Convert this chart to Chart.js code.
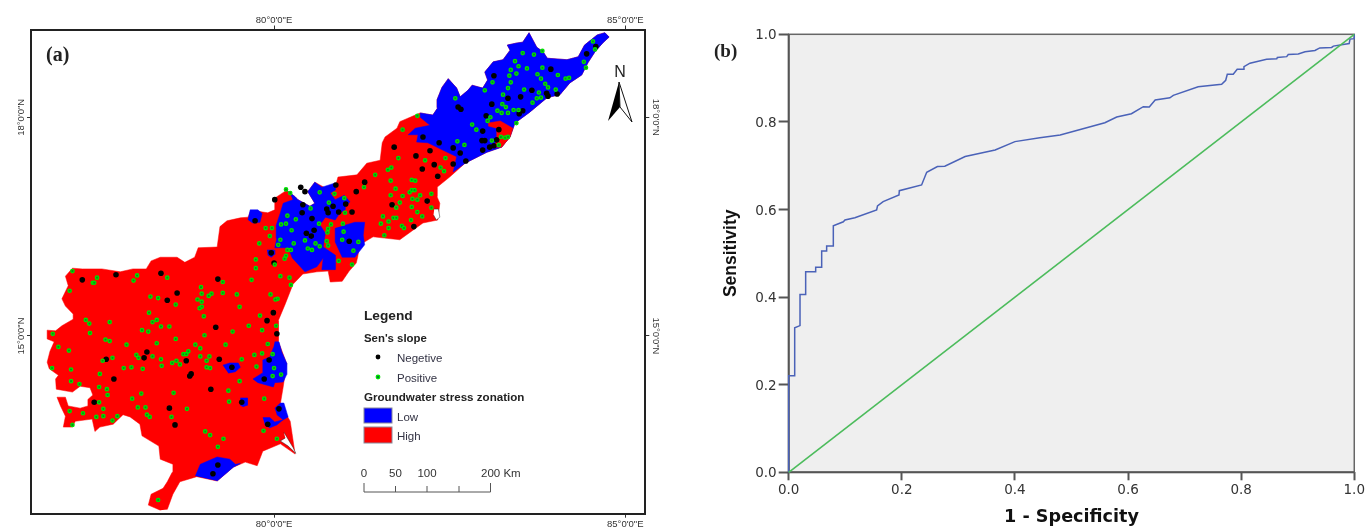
<!DOCTYPE html>
<html><head><meta charset="utf-8">
<style>html,body{margin:0;padding:0;background:#fff;overflow:hidden}canvas{position:absolute;top:0}</style>
<script src="https://cdn.jsdelivr.net/npm/chart.js@4"></script></head><body>
<canvas id="map" width="680" height="527" style="left:0"></canvas>
<canvas id="roc" width="687" height="527" style="left:680px"></canvas>
<script>
// ===== Panel (a): map data, [longitude, latitude] in degrees =====
const lonTicks=[80,85], latTicks=[15,18];
const stateOutline=[[78.38,12.61],[78.21,12.68],[78.25,12.83],[78.42,12.91],[78.48,13.00],[78.55,13.13],[78.56,13.24],[78.38,13.31],[78.36,13.49],[78.12,13.63],[78.09,13.79],[77.95,13.89],[77.85,13.92],[77.71,13.79],[77.52,13.75],[77.45,13.69],[77.41,13.86],[77.17,13.83],[77.13,13.75],[77.00,13.75],[77.03,13.90],[76.96,14.04],[76.91,14.16],[77.03,14.16],[77.07,14.04],[77.24,14.01],[77.35,14.04],[77.35,14.13],[77.42,14.19],[77.38,14.29],[77.24,14.31],[77.13,14.23],[76.90,14.27],[76.89,14.41],[76.93,14.46],[76.80,14.55],[76.77,14.64],[76.81,14.79],[76.87,14.92],[76.77,14.96],[76.77,15.08],[76.89,15.07],[76.98,15.14],[77.14,15.23],[77.14,15.30],[77.03,15.41],[76.98,15.51],[77.07,15.69],[77.03,15.82],[77.13,15.93],[77.27,15.92],[77.55,15.92],[77.81,15.88],[77.99,15.92],[78.18,15.92],[78.25,16.03],[78.38,16.08],[78.62,16.08],[78.73,16.01],[78.87,16.08],[78.92,16.21],[79.19,16.22],[79.23,16.50],[79.33,16.58],[79.52,16.62],[79.63,16.63],[79.66,16.70],[79.77,16.71],[79.91,16.69],[80.01,16.73],[80.01,16.89],[80.18,17.00],[80.30,16.91],[80.34,16.87],[80.51,16.78],[80.58,16.82],[80.48,16.98],[80.58,17.11],[80.73,17.03],[80.87,17.04],[80.91,17.18],[81.18,17.21],[81.32,17.37],[81.51,17.41],[81.54,17.65],[81.58,17.73],[81.75,17.85],[81.79,17.94],[82.01,18.03],[82.08,18.06],[82.26,18.03],[82.33,18.13],[82.32,18.24],[82.39,18.41],[82.48,18.53],[82.60,18.40],[82.65,18.28],[82.76,18.37],[82.82,18.44],[82.97,18.40],[83.04,18.51],[83.00,18.62],[83.12,18.76],[83.26,18.79],[83.36,18.92],[83.32,18.99],[83.46,19.02],[83.54,19.03],[83.63,19.16],[83.74,18.96],[83.83,18.90],[83.89,18.81],[84.17,18.79],[84.33,18.83],[84.42,18.99],[84.60,19.13],[84.71,19.16],[84.77,19.10],[84.68,19.02],[84.57,18.90],[84.47,18.75],[84.38,18.58],[84.21,18.47],[84.07,18.31],[83.89,18.27],[83.64,18.07],[83.43,17.92],[83.36,17.73],[83.24,17.59],[83.03,17.52],[82.72,17.37],[82.50,17.18],[82.32,17.04],[82.32,16.91],[82.36,16.82],[82.33,16.59],[82.12,16.55],[81.79,16.32],[81.41,16.36],[81.22,16.25],[81.19,16.08],[81.17,16.00],[81.07,15.89],[80.97,15.75],[80.80,15.74],[80.77,15.89],[80.61,15.88],[80.41,15.85],[80.27,15.71],[80.16,15.44],[80.06,15.21],[80.06,14.93],[80.18,14.62],[80.13,14.30],[80.09,14.07],[80.23,13.83],[80.30,13.38],[80.09,13.52],[79.84,13.42],[79.76,13.22],[79.59,13.27],[79.42,13.20],[79.19,13.01],[78.90,13.07],[78.66,13.00],[78.56,12.83],[78.48,12.62]];
const lowNorthEast=[[82.08,18.06],[82.26,18.03],[82.33,18.13],[82.32,18.24],[82.39,18.41],[82.48,18.53],[82.60,18.40],[82.65,18.28],[82.76,18.37],[82.82,18.44],[82.97,18.40],[83.04,18.51],[83.00,18.62],[83.12,18.76],[83.26,18.79],[83.36,18.92],[83.32,18.99],[83.46,19.02],[83.54,19.03],[83.63,19.16],[83.74,18.96],[83.83,18.90],[83.89,18.81],[84.17,18.79],[84.33,18.83],[84.42,18.99],[84.60,19.13],[84.71,19.16],[84.77,19.10],[84.68,19.02],[84.57,18.90],[84.47,18.75],[84.38,18.58],[84.21,18.47],[84.07,18.31],[83.89,18.27],[83.64,18.07],[83.43,17.92],[83.36,17.73],[83.24,17.59],[83.03,17.52],[82.72,17.37],[82.55,17.25],[82.60,17.46],[82.40,17.55],[82.19,17.65],[82.03,17.66],[82.05,17.76],[81.91,17.76],[82.01,17.85],[82.22,17.89],[82.08,18.00]];
const highCoastPatch=[[83.05,17.92],[83.22,17.95],[83.40,17.85],[83.36,17.73],[83.24,17.59],[83.14,17.59],[83.17,17.73],[83.17,17.85],[83.05,17.88]];
const lowCentral=[[80.18,17.00],[80.30,16.91],[80.34,16.87],[80.51,16.78],[80.58,16.82],[80.48,16.98],[80.58,17.11],[80.68,17.04],[80.87,17.10],[80.87,17.00],[80.80,16.96],[80.87,16.87],[81.00,16.93],[81.08,16.84],[81.01,16.77],[81.01,16.73],[80.94,16.69],[80.87,16.59],[80.73,16.63],[80.68,16.56],[80.63,16.56],[80.73,16.41],[80.70,16.22],[80.87,16.11],[80.87,15.91],[80.68,15.91],[80.70,16.07],[80.61,15.95],[80.44,15.88],[80.26,16.07],[80.20,16.21],[80.01,16.21],[80.04,16.34],[80.03,16.52],[80.09,16.69],[80.13,16.82],[80.27,16.87],[80.23,16.96]];
const lowKrishnaEast=[[81.01,16.52],[81.15,16.56],[81.29,16.56],[81.27,16.38],[81.29,16.25],[81.15,16.08],[80.97,16.08],[80.87,16.29],[80.87,16.48]];
const lowWestSmall=[[79.63,16.59],[79.66,16.73],[79.77,16.73],[79.83,16.68],[79.80,16.56],[79.69,16.55]];
const lowTiny=[[79.90,16.18],[80.00,16.18],[80.01,16.12],[79.96,16.08],[79.91,16.11]];
const lowCoast1=[[80.01,14.92],[80.07,14.92],[80.11,14.78],[80.18,14.63],[80.18,14.47],[80.13,14.37],[80.01,14.36],[79.99,14.30],[79.77,14.36],[79.70,14.41],[79.83,14.49],[79.84,14.67],[79.94,14.71],[79.99,14.84]];
const lowCoast2=[[79.27,14.60],[79.37,14.63],[79.49,14.63],[79.52,14.57],[79.45,14.51],[79.35,14.49]];
const lowCoast3=[[79.52,14.15],[79.62,14.15],[79.62,14.05],[79.56,14.03],[79.52,14.05]];
const lowCoast4=[[80.01,14.01],[80.09,14.08],[80.14,14.08],[80.20,13.89],[80.13,13.85],[80.04,13.92]];
const lowCoast5=[[79.84,13.88],[79.94,13.88],[80.01,13.82],[80.13,13.85],[80.04,13.78],[79.94,13.74],[79.87,13.78]];
const lowSouth=[[78.88,13.08],[78.95,13.24],[79.19,13.34],[79.37,13.31],[79.45,13.24],[79.52,13.25],[79.42,13.20],[79.19,13.01]];
const deltaSouth=[[80.14,13.68],[80.27,13.47],[80.31,13.39],[80.20,13.49],[80.09,13.56],[80.16,13.60]];
const deltaNorth=[[82.28,16.74],[82.34,16.74],[82.36,16.63],[82.31,16.59],[82.27,16.66]];
const negativeSites=[[77.27,15.77],[77.75,15.84],[78.39,15.86],[79.20,15.78],[78.62,15.59],[78.48,15.49],[79.17,15.12],[79.99,15.32],[79.90,15.21],[80.04,15.03],[77.61,14.68],[78.19,14.78],[78.15,14.70],[78.75,14.66],[79.22,14.68],[79.40,14.57],[79.93,14.67],[79.86,14.41],[77.72,14.41],[78.82,14.48],[78.80,14.45],[79.10,14.27],[77.44,14.09],[79.54,14.09],[78.51,14.01],[80.07,14.00],[78.59,13.78],[79.91,13.79],[79.20,13.23],[79.13,13.11],
[80.38,17.04],[80.44,16.98],[80.01,16.87],[80.41,16.80],[80.40,16.69],[80.88,17.07],[81.29,17.11],[81.17,16.98],[80.84,16.78],[80.75,16.74],[80.77,16.69],[80.92,16.70],[81.02,16.81],[81.11,16.70],[80.54,16.61],[80.57,16.45],[80.46,16.41],[80.53,16.37],[81.07,16.30],[79.96,16.14],[80.00,16.00],[79.73,16.58],
[82.12,17.73],[82.35,17.65],[81.71,17.59],[82.55,17.58],[82.02,17.47],[82.22,17.54],[82.28,17.35],[82.11,17.29],[82.33,17.19],[82.55,17.36],[82.18,16.85],[81.68,16.80],[81.99,16.50],
[83.13,18.57],[82.62,18.14],[82.66,18.11],[83.33,18.26],[83.51,18.28],[83.67,18.37],[83.88,18.33],[83.90,18.29],[84.03,18.32],[83.94,18.66],[84.45,18.87],[84.58,18.97],[83.10,18.18],[83.02,18.02],[83.49,18.05],[83.54,18.09],[82.97,17.81],[83.20,17.83],[82.96,17.68],[83.00,17.68],[83.17,17.69],[82.97,17.55],[83.07,17.59],[83.13,17.61],[82.65,17.51],[82.73,17.40]];
const positiveSites=[[77.13,15.89],[77.48,15.80],[77.42,15.73],[77.44,15.73],[78.05,15.83],[78.00,15.76],[78.48,15.80],[79.27,15.74],[79.68,15.77],[79.74,15.93],[80.09,15.82],[80.22,15.80],[80.24,15.70],[77.09,15.62],[78.96,15.67],[78.97,15.58],[79.11,15.58],[79.07,15.55],[79.27,15.59],[79.47,15.57],[79.95,15.57],[80.05,15.51],[80.02,15.50],[78.24,15.54],[78.35,15.52],[78.60,15.43],[78.91,15.50],[78.97,15.47],[78.97,15.40],[78.94,15.38],[79.51,15.40],[78.22,15.32],[79.00,15.27],[79.80,15.28],[77.32,15.22],[77.37,15.17],[77.66,15.19],[78.33,15.22],[78.27,15.19],[78.39,15.13],[78.51,15.13],[79.64,15.14],[80.03,15.14],[78.12,15.08],[78.21,15.06],[77.38,15.04],[76.85,15.03],[79.83,15.08],[79.41,15.06],[79.01,15.01],[77.60,14.95],[77.66,14.93],[78.60,14.96],[77.90,14.88],[78.33,14.90],[79.31,14.88],[79.91,14.89],[76.93,14.85],[77.08,14.80],[78.88,14.88],[78.95,14.83],[78.78,14.79],[78.71,14.75],[78.75,14.75],[79.72,14.74],[79.83,14.76],[79.98,14.75],[78.04,14.74],[78.07,14.70],[78.27,14.72],[77.70,14.70],[77.56,14.66],[78.39,14.68],[78.61,14.66],[78.55,14.63],[78.66,14.61],[78.95,14.72],[79.08,14.72],[79.04,14.66],[79.54,14.68],[78.40,14.59],[77.97,14.57],[77.86,14.56],[78.13,14.55],[79.04,14.57],[79.09,14.56],[79.75,14.58],[80.00,14.56],[76.84,14.56],[77.11,14.54],[77.52,14.48],[79.98,14.45],[80.10,14.47],[77.11,14.38],[77.23,14.34],[79.51,14.38],[77.51,14.30],[77.62,14.27],[77.63,14.19],[79.35,14.25],[78.11,14.21],[78.57,14.22],[77.98,14.14],[77.51,14.09],[79.36,14.10],[79.86,14.14],[78.06,14.02],[78.17,14.02],[77.57,14.00],[78.76,14.00],[77.09,13.97],[77.28,13.94],[78.19,13.92],[78.23,13.89],[77.47,13.89],[77.57,13.90],[77.77,13.90],[78.54,13.89],[77.70,13.84],[77.13,13.78],[79.85,13.70],[79.02,13.69],[79.09,13.64],[79.28,13.59],[80.04,13.59],[79.20,13.48],[78.35,12.75],
[80.17,17.01],[80.23,16.96],[80.65,16.97],[80.86,16.95],[81.00,16.89],[80.78,16.83],[80.52,16.75],[80.19,16.65],[80.31,16.60],[81.01,16.69],[80.10,16.53],[80.17,16.54],[80.64,16.54],[80.81,16.53],[80.98,16.54],[79.88,16.48],[79.97,16.48],[80.25,16.45],[80.77,16.47],[80.76,16.42],[80.99,16.43],[79.94,16.37],[80.44,16.31],[80.75,16.30],[80.77,16.24],[80.97,16.32],[81.20,16.29],[79.79,16.27],[80.09,16.32],[80.06,16.25],[80.28,16.27],[80.59,16.27],[80.65,16.23],[80.48,16.20],[80.54,16.18],[80.19,16.18],[80.24,16.18],[81.13,16.17],[80.17,16.10],[80.15,16.06],[79.74,16.05],[80.92,16.03],[80.01,15.98],[81.11,15.98],
[82.04,18.02],[81.83,17.83],[82.61,17.67],[81.77,17.44],[82.15,17.41],[82.44,17.44],[81.67,17.31],[81.62,17.28],[82.37,17.31],[82.42,17.26],[81.44,17.21],[81.66,17.13],[81.96,17.14],[82.01,17.13],[81.28,17.04],[81.73,17.02],[81.96,17.00],[82.00,17.00],[81.93,16.97],[82.08,16.93],[81.83,16.92],[82.24,16.95],[81.66,16.93],[81.97,16.88],[82.04,16.87],[81.79,16.83],[81.96,16.77],[81.74,16.76],[82.24,16.76],[82.04,16.70],[82.11,16.64],[81.55,16.64],[81.70,16.62],[81.74,16.62],[81.95,16.59],[81.63,16.57],[81.52,16.54],[81.63,16.48],[81.82,16.51],[81.85,16.48],[81.57,16.38],
[83.54,18.88],[83.70,18.86],[83.82,18.91],[83.43,18.77],[83.48,18.70],[83.60,18.67],[83.82,18.68],[83.37,18.65],[83.35,18.57],[83.45,18.60],[83.75,18.59],[83.80,18.53],[84.04,18.58],[84.15,18.53],[84.20,18.54],[83.11,18.48],[83.37,18.48],[83.33,18.40],[83.86,18.46],[83.90,18.41],[83.56,18.38],[83.77,18.34],[84.01,18.38],[83.00,18.37],[83.26,18.31],[82.58,18.26],[83.80,18.27],[83.74,18.26],[83.68,18.20],[83.25,18.18],[83.30,18.14],[83.18,18.09],[83.24,18.06],[83.33,18.06],[83.41,18.10],[83.48,18.10],[83.08,18.00],[83.04,17.95],[83.45,17.92],[82.82,17.90],[82.88,17.83],[83.23,17.73],[83.29,17.72],[83.33,17.73],[83.10,17.68],[83.20,17.62],[82.71,17.62],[84.41,18.76],[84.44,18.68],[84.54,19.04],[84.57,18.93]];
const lowZones=[lowNorthEast,lowCentral,lowKrishnaEast,lowWestSmall,lowTiny,lowCoast1,lowCoast2,lowCoast3,lowCoast4,lowCoast5,lowSouth];
const deltas=[deltaSouth,deltaNorth];

// ===== Panel (b): ROC curve =====
const rocFpr=[0,0,0.0106,0.0106,0.02,0.02,0.030,0.030,0.0477,0.0477,0.0583,0.0583,0.0671,0.0671,0.0789,0.0789,0.0966,0.0995,0.117,0.1555,0.157,0.167,0.195,0.1956,0.235,0.244,0.263,0.276,0.312,0.365,0.400,0.444,0.480,0.559,0.580,0.606,0.627,0.6376,0.648,0.674,0.680,0.724,0.7655,0.7727,0.7755,0.786,0.793,0.804,0.805,0.8156,0.845,0.863,0.864,0.8805,0.8833,0.901,0.913,0.9305,0.939,0.960,0.963,0.991,0.9925,1,1];
const rocTpr=[0,0.2205,0.2205,0.330,0.335,0.406,0.406,0.458,0.458,0.468,0.468,0.505,0.505,0.5167,0.5167,0.563,0.572,0.576,0.581,0.599,0.608,0.618,0.633,0.643,0.656,0.685,0.698,0.699,0.721,0.736,0.755,0.764,0.770,0.798,0.811,0.8187,0.8347,0.834,0.850,0.855,0.8607,0.880,0.886,0.895,0.9087,0.9087,0.920,0.920,0.926,0.934,0.943,0.944,0.947,0.949,0.954,0.955,0.960,0.963,0.969,0.970,0.973,0.979,0.989,0.990,1];
const refLine=[0,1];
const rocTicks=[0,0.2,0.4,0.6,0.8,1];
const xTitle='1 - Specificity', yTitle='Sensitivity';

const xy=a=>a.map(p=>({x:p[0],y:p[1]}));
const SANS='"Liberation Sans",Arial,sans-serif', SERIF='"Liberation Serif",serif';
const poly=(pts,color,order,extra)=>Object.assign({data:xy(pts),showLine:true,fill:'shape',backgroundColor:color,borderColor:color,borderWidth:0.5,pointRadius:0,order,clip:false},extra||{});
const fix=(prop,v)=>(s=>{s[prop]=v;});
const dms=(v,h)=>v+'°0\'0"'+h;
const FRAME={min:76.54,max:85.285}, FRAMEY={min:12.562,max:19.204};
const tickFont={family:SANS,size:9.5};
const onlyTicks=t=>(s=>{s.ticks=t.map(v=>({value:v}));});
const axisGrid={drawOnChartArea:false,tickLength:4,tickColor:'#333',tickWidth:1};
const axisBorder={color:'#222',width:2};

const mapDecor={id:'mapDecor',afterDraw(c){
  const g=c.ctx;g.save();
  const text=(s,x,y,font,col,al)=>{g.font=font;g.fillStyle=col||'#111';g.textAlign=al||'left';g.textBaseline='alphabetic';g.fillText(s,x,y);};
  text('(a)',46,61,'bold 20px '+SERIF,'#222');
  text('Legend',364,320,'bold 13.7px '+SANS,'#222');
  text("Sen's slope",364,342,'bold 11.4px '+SANS,'#222');
  text('Negetive',397,362,'11.5px '+SANS,'#334');
  text('Positive',397,382,'11.5px '+SANS,'#334');
  text('Groundwater stress zonation',364,401,'bold 11.6px '+SANS,'#222');
  text('Low',397,421,'11.5px '+SANS,'#334');
  text('High',397,440,'11.5px '+SANS,'#334');
  g.beginPath();g.arc(378,357,2.4,0,7);g.fillStyle='#000';g.fill();
  g.beginPath();g.arc(378,377,2.4,0,7);g.fillStyle='#00e000';g.fill();
  g.beginPath();g.arc(378,377,1,0,7);g.fillStyle='#064';g.fill();
  g.lineWidth=1;g.strokeStyle='#889';
  g.fillStyle='#0000ff';g.fillRect(364,408,28,15);g.strokeRect(364,408,28,15);
  g.fillStyle='#ff0000';g.fillRect(364,427,28,16);g.strokeRect(364,427,28,16);
  ['0','50','100'].forEach((s,i)=>text(s,[364,395.5,427][i],477,'11.5px '+SANS,'#333','center'));
  text('200 Km',481,477,'11.5px '+SANS,'#333');
  g.strokeStyle='#555';g.lineWidth=1;g.beginPath();
  g.moveTo(364,483);g.lineTo(364,492);g.lineTo(490.5,492);g.lineTo(490.5,483);
  [395.5,427,459].forEach(x=>{g.moveTo(x,486);g.lineTo(x,492);});g.stroke();
  text('N',620,77,'16px '+SANS,'#222','center');
  g.fillStyle='#000';g.beginPath();g.moveTo(619,82);g.lineTo(608,121);g.lineTo(620,107);g.closePath();g.fill();
  g.strokeStyle='#111';g.lineWidth=1;g.beginPath();g.moveTo(619,82);g.lineTo(632,122);g.lineTo(620,107);g.closePath();g.stroke();
  g.restore();
}};

new Chart(document.getElementById('map'),{type:'scatter',plugins:[mapDecor],
 data:{datasets:[
   {label:'Positive',data:xy(positiveSites),pointRadius:1.7,pointBorderWidth:1.3,pointBorderColor:'#00e000',pointBackgroundColor:'#0b8a20',order:1},
   {label:'Negative',data:xy(negativeSites),pointRadius:2.8,pointBackgroundColor:'#000',pointBorderWidth:0,order:2},
   ...deltas.map(d=>poly(d,'#fff',5,{borderColor:'#222',borderWidth:0.5})),
   poly(highCoastPatch,'#ff0000',6),
   ...lowZones.map(z=>poly(z,'#0000ff',7)),
   poly(stateOutline,'#ff0000',8)
 ]},
 options:{responsive:false,animation:false,devicePixelRatio:1,
  plugins:{legend:{display:false},tooltip:{enabled:false}},
  layout:{padding:0},
  scales:{
   x:{type:'linear',position:'bottom',...FRAME,afterBuildTicks:onlyTicks(lonTicks),afterFit:fix('height',13.3),grid:axisGrid,border:axisBorder,
      ticks:{autoSkip:false,maxRotation:0,padding:1,font:tickFont,color:'#333',callback:v=>dms(v,'E')}},
   xt:{type:'linear',position:'top',...FRAME,afterBuildTicks:onlyTicks(lonTicks),afterFit:fix('height',29.5),grid:axisGrid,border:axisBorder,
      ticks:{autoSkip:false,maxRotation:0,padding:-1,font:tickFont,color:'#333',callback:v=>dms(v,'E')}},
   y:{type:'linear',position:'left',...FRAMEY,afterBuildTicks:onlyTicks(latTicks),afterFit:fix('width',31),grid:axisGrid,border:axisBorder,
      ticks:{autoSkip:false,minRotation:90,maxRotation:90,crossAlign:'center',padding:-13,font:tickFont,color:'#333',callback:v=>dms(v,'N')}},
   yr:{type:'linear',position:'right',...FRAMEY,afterBuildTicks:onlyTicks(latTicks),afterFit:fix('width',34.7),grid:axisGrid,border:axisBorder,
      ticks:{autoSkip:false,minRotation:-90,maxRotation:-90,crossAlign:'center',padding:-12,font:tickFont,color:'#333',callback:v=>dms(v,'N')}}
  }}
});

const rocFrame={id:'rocFrame',
 beforeDraw(c){const a=c.chartArea,g=c.ctx;g.save();g.fillStyle='#efefef';g.fillRect(a.left,a.top,a.width,a.height);g.restore();},
 beforeDatasetsDraw(c){const a=c.chartArea,g=c.ctx;g.save();g.strokeStyle='#666';g.lineWidth=1.5;g.strokeRect(a.left,a.top,a.width,a.height);
   g.strokeStyle='#555';g.lineWidth=2;g.beginPath();g.moveTo(a.left,a.top);g.lineTo(a.left,a.bottom);g.lineTo(a.right,a.bottom);g.stroke();g.restore();},
 afterDraw(c){const g=c.ctx;g.save();g.font='bold 19px '+SERIF;g.fillStyle='#222';g.textAlign='left';g.fillText('(b)',34,57);g.restore();}
};
new Chart(document.getElementById('roc'),{type:'scatter',plugins:[rocFrame],
 data:{datasets:[
  {label:'Reference',data:refLine.map(v=>({x:v,y:v})),showLine:true,borderColor:'#4cbc5c',borderWidth:1.6,pointRadius:0,clip:false,order:1},
  {label:'ROC',data:rocFpr.map((v,i)=>({x:v,y:rocTpr[i]})),showLine:true,borderColor:'#4a62b8',borderWidth:1.5,pointRadius:0,tension:0,clip:false,order:2}
 ]},
 options:{responsive:false,animation:false,devicePixelRatio:1,
  plugins:{legend:{display:false},tooltip:{enabled:false}},
  layout:{padding:{top:34.3,right:12.7}},
  scales:{
   x:{type:'linear',min:0,max:1,afterBuildTicks:onlyTicks(rocTicks),afterFit:fix('height',54.7),
      grid:{drawOnChartArea:false,tickLength:8,tickColor:'#555',tickWidth:2},border:{display:false},
      ticks:{autoSkip:false,maxRotation:0,padding:2,color:'#333',font:{family:'"DejaVu Sans"',size:13.5},callback:v=>v.toFixed(1)},
      title:{display:true,text:xTitle,color:'#111',font:{family:'"DejaVu Sans"',weight:'bold',size:17.6},padding:{top:0,bottom:-1}}},
   y:{type:'linear',min:0,max:1,afterBuildTicks:onlyTicks(rocTicks),afterFit:fix('width',108.7),
      grid:{drawOnChartArea:false,tickLength:10,tickColor:'#555',tickWidth:2},border:{display:false},
      ticks:{autoSkip:false,padding:2,labelOffset:1.5,color:'#333',font:{family:'"DejaVu Sans"',size:13.5},callback:v=>v.toFixed(1)},
      title:{display:true,text:yTitle,color:'#111',font:{family:SANS,weight:'bold',size:17.5},padding:{top:41,bottom:0}}}
  }}
});
</script></body></html>
